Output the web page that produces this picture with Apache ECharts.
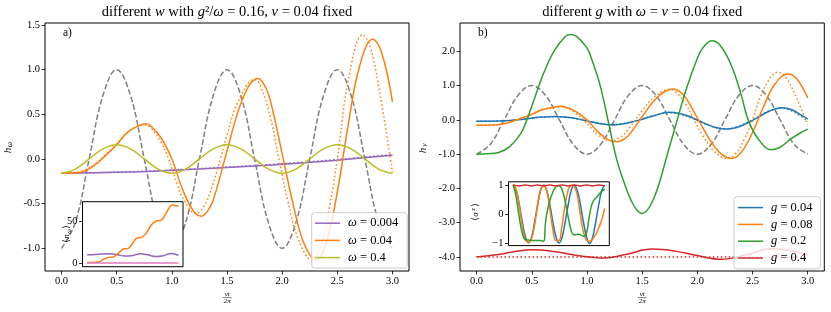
<!DOCTYPE html>
<html><head><meta charset="utf-8">
<script src="https://cdn.jsdelivr.net/npm/echarts@6/dist/echarts.min.js"></script>
<style>html,body{margin:0;padding:0;background:#fff}#c{width:831px;height:312px}</style>
</head><body><div id="c"></div>
<script>
// ---------- tick labels ----------
const xTicks = [0, 0.5, 1, 1.5, 2, 2.5, 3];
const yTicksA = [-1, -0.5, 0, 0.5, 1, 1.5];
const yTicksB = [-4, -3, -2, -1, 0, 1, 2];
const insetATicks = [0, 50];
const insetBTicks = [-1, 0, 1];

// ---------- drive (grey dashed), both panels ----------
const xDrive = [0,0.125,0.25,0.375,0.5,0.625,0.75,0.875,1,1.125,1.25,1.375,1.5,1.625,1.75,1.875,2,2.125,2.25,2.375,2.5,2.625,2.75,2.875,3];
const hDrive = [-1,-0.71,0,0.71,1,0.71,0,-0.71,-1,-0.71,0,0.71,1,0.71,0,-0.71,-1,-0.71,0,0.71,1,0.71,0,-0.71,-1];

// ---------- panel a ----------
const xSlow = [0, 0.5, 1, 1.5, 2, 2.5, 3];
const hSlow = [-0.160, -0.150, -0.127, -0.096, -0.060, -0.013, 0.042];
const hSlowDot = [-0.160, -0.148, -0.123, -0.090, -0.052, -0.005, 0.052];

const xMid = [0,0.1,0.2,0.3,0.4,0.5,0.6,0.7,0.76,0.8,0.9,1.0,1.1,1.2,1.27,1.35,1.4,1.5,1.6,1.7,1.78,1.85,1.9,2.0,2.1,2.2,2.31,2.4,2.5,2.6,2.7,2.82,2.9,3.0];
const hMid = [-0.16,-0.155,-0.14,-0.07,0.04,0.16,0.30,0.37,0.395,0.38,0.24,0.0,-0.35,-0.59,-0.64,-0.53,-0.36,0.09,0.53,0.82,0.90,0.80,0.62,0.06,-0.51,-0.95,-1.13,-0.94,-0.37,0.39,1.03,1.34,1.20,0.64];
const xMidDot = [0,0.1,0.2,0.3,0.4,0.5,0.6,0.74,0.8,0.9,0.97,1.05,1.1,1.22,1.3,1.37,1.44,1.5,1.6,1.75,1.8,1.9,1.97,2.05,2.15,2.27,2.35,2.43,2.5,2.6,2.73,2.8,2.9,3.0];
const hMidDot = [-0.16,-0.155,-0.13,-0.06,0.05,0.17,0.30,0.38,0.36,0.19,0.0,-0.29,-0.44,-0.61,-0.51,-0.29,0.0,0.27,0.64,0.89,0.83,0.43,0.0,-0.46,-0.91,-1.13,-0.97,-0.53,0.0,0.88,1.39,1.25,0.63,-0.15];

const hFast = [-0.16,-0.113,0,0.113,0.16,0.113,0,-0.113,-0.16,-0.113,0,0.113,0.16,0.113,0,-0.113,-0.16,-0.113,0,0.113,0.16,0.113,0,-0.113,-0.16];

// inset a: <n_omega>
const xNslow = [0,0.25,0.5,0.75,1,1.25,1.5,1.75,2,2.25,2.5,2.75,3];
const nSlow = [10,10.3,11,11.3,10,8.7,9.3,11.3,10,8,9,11.5,9.5];
const xNmid = [0,0.2,0.38,0.54,0.7,0.86,1.02,1.19,1.35,1.46,1.62,1.78,1.94,2.10,2.27,2.43,2.59,2.80,2.9,3.0];
const nMid = [1.0,1.0,1.5,4.7,7.0,7.5,11.8,17.0,17.7,21.6,29.5,30.7,35.4,45.0,50.0,50.8,59.0,69.0,68.0,67.3];
const xNfast = [0, 3];
const nFast = [0.3, 0.3];

// ---------- panel b ----------
const xG04 = [0,0.1,0.2,0.3,0.4,0.5,0.6,0.71,0.8,0.9,1.0,1.1,1.22,1.3,1.4,1.5,1.6,1.74,1.85,1.95,2.05,2.15,2.25,2.35,2.45,2.55,2.65,2.76,2.85,2.93,3.0];
const hG04 = [-0.04,-0.04,-0.035,-0.02,0.01,0.05,0.08,0.095,0.085,0.04,-0.03,-0.10,-0.145,-0.13,-0.07,0.02,0.11,0.22,0.18,0.07,-0.08,-0.21,-0.27,-0.23,-0.10,0.07,0.25,0.35,0.30,0.16,0.02];
const hG04Dot = [-0.04,-0.04,-0.035,-0.02,0.01,0.05,0.08,0.09,0.08,0.035,-0.035,-0.10,-0.14,-0.125,-0.06,0.03,0.12,0.21,0.16,0.05,-0.09,-0.21,-0.26,-0.21,-0.08,0.09,0.26,0.34,0.27,0.12,-0.02];

const xG2 = [0,0.1,0.2,0.3,0.4,0.45,0.5,0.56,0.6,0.7,0.8,0.85,0.9,1.0,1.05,1.12,1.2,1.27,1.35,1.4,1.45,1.5,1.55,1.6,1.65,1.74,1.8,1.9,2.0,2.05,2.13,2.2,2.3,2.4,2.46,2.55,2.67,2.75,2.85,2.95,3.0];
const hG2 = [-1.0,-0.99,-0.95,-0.78,-0.4,-0.05,0.4,0.95,1.3,2.0,2.42,2.49,2.45,2.1,1.7,1.0,-0.15,-1.16,-1.95,-2.35,-2.62,-2.73,-2.62,-2.33,-1.9,-0.87,-0.2,0.9,1.8,2.1,2.31,2.2,1.65,0.7,0.0,-0.55,-0.87,-0.8,-0.55,-0.35,-0.27];

const xG4 = [0,0.2,0.35,0.51,0.7,0.9,1.16,1.35,1.59,1.8,2.0,2.22,2.45,2.67,2.85,3.0];
const hG4 = [-4.0,-3.93,-3.84,-3.79,-3.84,-3.95,-4.03,-3.93,-3.77,-3.83,-3.96,-4.07,-3.93,-3.76,-3.82,-3.95];
const xG4Dot = [0, 3];
const hG4Dot = [-4.0, -4.0];

// inset b: <sigma^z>
const xS = [0,0.1,0.2,0.3,0.4,0.5,0.6,0.7,0.8,0.9,1.0,1.1,1.2,1.3,1.4,1.5,1.6,1.7,1.8,1.9,2.0,2.1,2.2,2.3,2.4,2.5,2.6,2.7,2.8,2.9,3.0];
const sG04 = [1,0.82,0.35,-0.25,-0.75,-0.97,-0.8,-0.3,0.3,0.8,1.0,0.82,0.35,-0.25,-0.75,-0.98,-0.8,-0.3,0.3,0.8,1.0,0.82,0.35,-0.25,-0.75,-1.0,-0.8,-0.3,0.3,0.8,1.0];
const sG08 = [1.0,0.85,0.3,-0.4,-0.85,-0.95,-0.85,-0.4,0.3,0.85,0.98,0.8,0.2,-0.5,-0.9,-0.9,-0.4,0.3,0.8,0.98,0.95,0.65,0.0,-0.6,-0.88,-0.93,-0.85,-0.7,-0.47,-0.2,0.2];
const xSG2 = [0,0.1,0.2,0.3,0.38,0.5,0.7,0.9,1.0,1.03,1.06,1.15,1.3,1.47,1.6,1.75,1.9,2.0,2.15,2.3,2.4,2.5,2.6,2.75,2.9,3.0];
const sG2 = [1.0,0.6,-0.1,-0.65,-0.85,-0.88,-0.9,-0.9,-0.92,-0.85,-0.3,0.25,0.75,0.98,0.85,0.2,-0.55,-0.7,-0.68,-0.75,-0.65,-0.05,0.4,0.6,0.78,0.85];
const xSG4 = [0,0.2,0.4,0.6,0.8,1.0,1.2,1.4,1.6,1.8,2.0,2.2,2.4,2.6,2.8,3.0];
const sG4 = [1.0,0.965,1.0,0.965,1.0,0.965,1.0,0.965,1.0,0.965,1.0,0.965,1.0,0.965,1.0,0.965];

// ---------- styling ----------
const FONT = '"Liberation Serif", "DejaVu Serif", serif';
const C = {grey:'#7f7f7f', purple:'#9467bd', orange:'#ff7f0e', olive:'#bcbd22', blue:'#1f77b4', green:'#2ca02c', red:'#d62728', pink:'#e377c2'};
const DOT = [1.5, 2.5], DASH = [5.5, 2.4];
const pts = (xs, ys) => xs.map((x, i) => [x, ys[i]]);

function line(name, xs, ys, color, gi, type, z) {
  return {
    type: 'line', name, data: pts(xs, ys), xAxisIndex: gi, yAxisIndex: gi,
    symbol: 'none', smooth: 0.4, z: z || 2, silent: true,
    lineStyle: {color, width: 1.5, type: type || 'solid'}, itemStyle: {color}
  };
}

const tickStyle = {color: '#000', width: 0.8};
function mainX(gi) {
  return {
    type: 'value', gridIndex: gi, min: -0.15, max: 3.15,
    axisLine: {show: false, onZero: false}, splitLine: {show: false},
    axisTick: {show: true, customValues: xTicks, length: 3.5, lineStyle: tickStyle},
    axisLabel: {show: true, customValues: xTicks, formatter: v => v.toFixed(1), fontFamily: FONT, fontSize: 10.5, color: '#000', margin: 5}
  };
}
function mainY(gi, min, max, ticks) {
  return {
    type: 'value', gridIndex: gi, min, max,
    axisLine: {show: false, onZero: false}, splitLine: {show: false},
    axisTick: {show: true, customValues: ticks, length: 3.5, lineStyle: tickStyle},
    axisLabel: {show: true, customValues: ticks, formatter: v => v.toFixed(1), fontFamily: FONT, fontSize: 10.5, color: '#000', margin: 5}
  };
}
function insetX(gi) {
  return {type: 'value', gridIndex: gi, min: -0.15, max: 3.15, z: 6,
    axisLine: {show: false, onZero: false}, splitLine: {show: false}, axisTick: {show: false}, axisLabel: {show: false}};
}
function insetY(gi, min, max, ticks, fmt) {
  return {
    type: 'value', gridIndex: gi, min, max, z: 6,
    axisLine: {show: false, onZero: false}, splitLine: {show: false},
    axisTick: {show: true, customValues: ticks, length: 3.5, lineStyle: tickStyle},
    axisLabel: {show: true, customValues: ticks, formatter: fmt, fontFamily: FONT, fontSize: 10.5, color: '#000', margin: 5}
  };
}

function txt(x, y, text, size, italic, align) {
  return {type: 'text', x, y, z: 20, silent: true,
    style: {text, fontFamily: FONT, fontSize: size, fontStyle: italic ? 'italic' : 'normal', fill: '#000',
      align: align || 'center', verticalAlign: 'middle'}};
}
const TS = 14.5;
function richTitle(x, y, text) {
  return {type: 'text', x, y, z: 20, silent: true,
    style: {text, align: 'center', verticalAlign: 'middle', fill: '#000', fontFamily: FONT, fontSize: TS,
      rich: {n: {fontFamily: FONT, fontSize: TS, fill: '#000'}, i: {fontFamily: FONT, fontSize: TS, fontStyle: 'italic', fill: '#000'}}}};
}
function frac(cx) {
  return [
    txt(cx, 294.3, 'vt', 7, true),
    {type: 'line', z: 20, silent: true, shape: {x1: cx - 4.5, y1: 297.6, x2: cx + 4.5, y2: 297.6}, style: {stroke: '#000', lineWidth: 0.5}},
    txt(cx, 301, '2π', 7, true)
  ];
}
function rotLabel(x, y, parts) {
  return {type: 'group', x, y, rotation: Math.PI / 2, z: 20, silent: true,
    children: parts.map(p => Object.assign(txt(p[0], p[1], p[2], p[3], p[4]), {z: 20}))};
}

function legendCfg(left, top, names, pad, gap) {
  return {
    left, top, orient: 'vertical', data: names, selectedMode: false,
    icon: 'rect', itemWidth: 25, itemHeight: 1.5, itemGap: gap, padding: pad,
    backgroundColor: 'rgba(255,255,255,0.8)', borderColor: '#cccccc', borderWidth: 1, borderRadius: 3,
    formatter: n => n.replace(/^([ωg])/, '{i|$1}'),
    textStyle: {fontFamily: FONT, fontSize: 12.5, lineHeight: 12, color: '#000', padding: [0, 0, 0, 3],
      rich: {i: {fontFamily: FONT, fontSize: 12.5, lineHeight: 12, fontStyle: 'italic', color: '#000'}}}
  };
}

const chart = echarts.init(document.getElementById('c'), null, {renderer: 'canvas'});
chart.setOption({
  animation: false,
  backgroundColor: '#fff',
  grid: [
    {left: 45, top: 23, width: 364, height: 248, show: true, borderColor: '#000', borderWidth: 1, backgroundColor: 'transparent', z: 0},
    {left: 82.5, top: 201.7, width: 100.5, height: 65, show: true, borderColor: '#000', borderWidth: 1, backgroundColor: '#fff', z: 5},
    {left: 460, top: 23, width: 364.3, height: 248, show: true, borderColor: '#000', borderWidth: 1, backgroundColor: 'transparent', z: 0},
    {left: 508.5, top: 181.8, width: 100.8, height: 63.8, show: true, borderColor: '#000', borderWidth: 1, backgroundColor: '#fff', z: 5}
  ],
  xAxis: [mainX(0), insetX(1), mainX(2), insetX(3)],
  yAxis: [
    mainY(0, -1.254, 1.522, yTicksA),
    insetY(1, -4.0, 72.8, insetATicks, v => String(v)),
    mainY(2, -4.41, 2.826, yTicksB),
    insetY(3, -1.07, 1.105, insetBTicks, v => (v < 0 ? '\u2212' + Math.abs(v) : String(v)))
  ],
  legend: [
    legendCfg(311.7, 212.7, ['ω = 0.004', 'ω = 0.04', 'ω = 0.4'], [4, 9, 4, 3.3], 4.2),
    legendCfg(734, 196.7, ['g = 0.04', 'g = 0.08', 'g = 0.2', 'g = 0.4'], [4.4, 8, 4.4, 4], 3.8)
  ],
  series: [
    // panel a
    line('drive a', xDrive, hDrive, C.grey, 0, DASH),
    line('ω = 0.004 approx', xSlow, hSlowDot, C.purple, 0, DOT),
    line('ω = 0.004', xSlow, hSlow, C.purple, 0),
    line('ω = 0.04 approx', xMidDot, hMidDot, C.orange, 0, DOT),
    line('ω = 0.04', xMid, hMid, C.orange, 0),
    line('ω = 0.4', xDrive, hFast, C.olive, 0),
    // inset a
    line('n slow', xNslow, nSlow, C.purple, 1, 'solid', 6),
    line('n mid', xNmid, nMid, C.orange, 1, 'solid', 6),
    line('n fast', xNfast, nFast, C.pink, 1, 'solid', 6),
    // panel b
    line('drive b', xDrive, hDrive, C.grey, 2, DASH),
    line('g = 0.04 approx', xG04, hG04Dot, C.blue, 2, DOT),
    line('g = 0.04', xG04, hG04, C.blue, 2),
    line('g = 0.08 approx', xMidDot, hMidDot, C.orange, 2, DOT),
    line('g = 0.08', xMid, hMid, C.orange, 2),
    line('g = 0.2', xG2, hG2, C.green, 2),
    line('g = 0.4 approx', xG4Dot, hG4Dot, C.red, 2, DOT),
    line('g = 0.4', xG4, hG4, C.red, 2),
    // inset b
    line('s 0.04', xS, sG04, C.blue, 3, 'solid', 6),
    line('s 0.08', xS, sG08, C.orange, 3, 'solid', 6),
    line('s 0.2', xSG2, sG2, C.green, 3, 'solid', 6),
    line('s 0.4', xSG4, sG4, C.red, 3, 'solid', 6)
  ],
  graphic: [
    richTitle(227, 12.5, '{n|different }{i|w}{n| with }{i|g}{n|²/}{i|ω}{n| = 0.16, }{i|v}{n| = 0.04 fixed}'),
    richTitle(642.2, 12.5, '{n|different }{i|g}{n| with }{i|ω}{n| = }{i|v}{n| = 0.04 fixed}'),
    txt(63, 33, 'a)', 11.5, false, 'left'),
    txt(478, 33, 'b)', 11.5, false, 'left'),
    ...frac(227.2),
    ...frac(642.2),
    rotLabel(8, 148, [[-2.5, 0, 'h', 11, true], [3.5, 2.5, 'ω', 7.5, true]]),
    rotLabel(423, 148, [[-2.5, 0, 'h', 11, true], [3, 2.5, 'v', 7.5, true]]),
    rotLabel(67, 233, [[-8, 0, '⟨', 9, false], [-3.5, 0, 'n', 9, true], [1.5, 2, 'ω', 6.5, true], [6, 0, '⟩', 9, false]]),
    rotLabel(476, 211, [[-8, 0, '⟨', 9, false], [-3.5, 0, 'σ', 9, true], [1.5, -3, 'z', 6.5, true], [6, 0, '⟩', 9, false]])
  ]
});
</script>
</body></html>
